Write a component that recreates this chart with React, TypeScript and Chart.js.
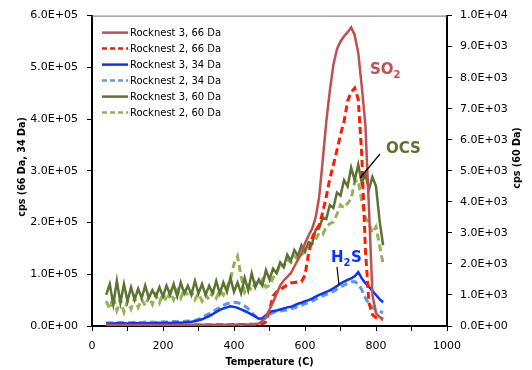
import { useEffect, useRef } from "react";
import { Chart, registerables } from "chart.js";

Chart.register(...registerables);

// Temperature (C)
const temps = [
  40, 50, 60, 70, 80, 90, 100, 110, 120, 130, 140, 150, 160, 170, 180, 190, 200, 210, 220, 230,
  240, 250, 260, 270, 280, 290, 300, 310, 320, 330, 340, 350, 360, 370, 380, 390, 400, 410, 420, 430,
  440, 450, 460, 470, 480, 490, 500, 510, 520, 530, 540, 550, 560, 570, 580, 590, 600, 610, 620, 630,
  640, 650, 660, 670, 680, 690, 700, 710, 720, 730, 740, 750, 760, 770, 780, 790, 800, 810, 820,
];

// Rocknest 3, 66 Da (left axis)
const rn3_66 = [
  2000, 1800, 2000, 1900, 2000, 2100, 1900, 2000, 2100, 2000, 1900, 2000, 2100, 2000, 2100, 2000, 2100, 2200, 2000, 2100,
  2200, 2100, 2200, 2100, 2200, 2300, 2200, 2300, 2400, 2300, 2400, 2500, 2400, 2500, 2600, 2500, 2600, 2700, 2800, 2900,
  3000, 3200, 3500, 5000, 9000, 18000, 32000, 46000, 62000, 78000, 88000, 95000, 102000, 115000, 128000, 140000, 160000, 175000, 188000, 210000,
  250000, 320000, 395000, 455000, 505000, 535000, 550000, 560000, 568000, 577000, 562000, 528000, 462000, 390000, 230000, 60000, 25000, 17000, 14000,
];

// Rocknest 2, 66 Da (left axis)
const rn2_66 = [
  1000, 1000, 1100, 1000, 1100, 1200, 1100, 1200, 1200, 1300, 1200, 1300, 1400, 1300, 1400, 1500, 1400, 1500, 1600, 1500,
  1600, 1700, 1600, 1700, 1800, 1900, 1800, 1900, 2000, 2100, 2000, 2200, 2300, 2400, 2500, 2600, 2700, 2800, 3000, 3100,
  3200, 3400, 3600, 3800, 4000, 8000, 30000, 58000, 66000, 70000, 75000, 80000, 83000, 84000, 85000, 86000, 98000, 140000, 170000, 185000,
  195000, 220000, 250000, 285000, 312000, 340000, 370000, 395000, 435000, 452000, 460000, 438000, 330000, 150000, 45000, 22000, 16000, 14000, 13000,
];

// Rocknest 3, 34 Da (left axis)
const rn3_34 = [
  5000, 4500, 5000, 5500, 5000, 5500, 5000, 5500, 6000, 5500, 5000, 5500, 6000, 5500, 6000, 6500, 6000, 6500, 6000, 6500,
  7000, 6500, 7000, 7500, 8000, 9000, 11000, 13000, 16000, 19000, 23000, 27000, 31000, 34000, 36000, 38000, 37000, 35000, 32000, 29000,
  26000, 22000, 18000, 14000, 15000, 21000, 27000, 29000, 30000, 32000, 34000, 36000, 37000, 40000, 43000, 45000, 48000, 50000, 53000, 57000,
  60000, 63000, 66000, 69000, 73000, 77000, 82000, 86000, 89000, 92000, 96000, 104000, 92000, 83000, 76000, 68000, 60000, 52000, 46000,
];

// Rocknest 2, 34 Da (left axis)
const rn2_34 = [
  6000, 6500, 6000, 6500, 7000, 6500, 7000, 6500, 7000, 6500, 7000, 7500, 7000, 7500, 7000, 7500, 8000, 7500, 8000, 8500,
  8000, 8500, 9000, 9500, 10000, 11000, 13000, 16000, 20000, 24000, 28000, 32000, 36000, 40000, 43000, 45000, 46000, 45000, 43000, 39000,
  33000, 26000, 19000, 14000, 12000, 16000, 22000, 26000, 28000, 29000, 30000, 31000, 33000, 35000, 38000, 40000, 43000, 45000, 48000, 52000,
  55000, 58000, 61000, 64000, 67000, 71000, 75000, 79000, 82000, 85000, 86000, 81000, 70000, 54000, 43000, 36000, 31000, 28000, 26000,
];

// Rocknest 3, 60 Da (right axis)
const rn3_60 = [
  1000, 1350, 700, 1450, 750, 1350, 800, 1250, 850, 1200, 900, 1300, 900, 1150, 950, 1250, 950, 1300, 1000, 1350,
  950, 1400, 1050, 1300, 1000, 1450, 1050, 1350, 1000, 1300, 1050, 1450, 1050, 1400, 1100, 1550, 1100, 1400, 1050, 1550,
  1150, 1700, 1250, 1500, 1300, 1800, 1500, 1850, 1700, 2050, 1900, 2300, 2100, 2450, 2250, 2600, 2400, 2700, 2650, 3100,
  3150, 3500, 3450, 3900, 3800, 4300, 4200, 4700, 4500, 5100, 4700, 5200, 4600, 4900, 4400, 4800, 4500, 3400, 2600,
];

// Rocknest 2, 60 Da (right axis)
const rn2_60 = [
  800, 550, 950, 500, 850, 450, 800, 550, 900, 600, 850, 650, 950, 700, 1000, 750, 1050, 800, 1100, 850,
  1150, 900, 1200, 950, 1100, 850, 1050, 800, 1000, 850, 1100, 900, 1150, 1000, 1250, 1500, 2000, 2250, 1600, 1100,
  1300, 1150, 1400, 1300, 1500, 1250, 1300, 1550, 1700, 2000, 1900, 2150, 2050, 2250, 2150, 2300, 2400, 2500, 2650, 2800,
  3000, 2950, 3200, 3300, 3350, 3600, 3900, 3800, 3950, 4100, 4650, 4700, 4000, 3500, 3300, 3000, 3200, 2600, 2000,
];

const seriesLabels = [
  "Rocknest 3, 66 Da",
  "Rocknest 2, 66 Da",
  "Rocknest 3, 34 Da",
  "Rocknest 2, 34 Da",
  "Rocknest 3, 60 Da",
  "Rocknest 2, 60 Da",
];

const xTitle = "Temperature (C)";
const yLeftTitle = "cps (66 Da, 34 Da)";
const yRightTitle = "cps (60 Da)";

const FONT = "'DejaVu Sans', Verdana, sans-serif";

function sci(v: number): string {
  if (v === 0) return "0.0E+00";
  const e = Math.floor(Math.log10(Math.abs(v)) + 1e-9);
  const m = v / Math.pow(10, e);
  return m.toFixed(1) + "E" + (e < 0 ? "-" : "+") + String(Math.abs(e)).padStart(2, "0");
}

const styles = [
  { color: "#C0504D", width: 2.5, dash: [] as number[], axis: "y" },
  { color: "#FF1A00", width: 3, dash: [7, 4], axis: "y" },
  { color: "#0B32FF", width: 2.5, dash: [] as number[], axis: "y" },
  { color: "#5B9BE0", width: 3, dash: [7, 4], axis: "y" },
  { color: "#5B7431", width: 2.5, dash: [] as number[], axis: "y1" },
  { color: "#93B356", width: 3, dash: [7, 4], axis: "y1" },
];

function drawChem(
  ctx: CanvasRenderingContext2D,
  parts: { t: string; sub?: boolean }[],
  x: number,
  y: number,
  color: string
) {
  ctx.fillStyle = color;
  ctx.textAlign = "left";
  ctx.textBaseline = "alphabetic";
  let cx = x;
  for (const p of parts) {
    ctx.font = p.sub ? `bold 10px ${FONT}` : `bold 15px ${FONT}`;
    ctx.fillText(p.t, cx, p.sub ? y + 4 : y);
    cx += ctx.measureText(p.t).width + (p.sub ? 0.5 : 0);
  }
}

const overlay = {
  id: "overlay",
  afterDraw(chart: any) {
    const { ctx, chartArea: a } = chart;
    ctx.save();
    // top frame line
    ctx.strokeStyle = "#707070";
    ctx.lineWidth = 1;
    ctx.beginPath();
    ctx.moveTo(a.left, a.top + 0.5);
    ctx.lineTo(a.right, a.top + 0.5);
    ctx.stroke();

    // legend
    ctx.font = `10px ${FONT}`;
    ctx.textBaseline = "middle";
    ctx.textAlign = "left";
    chart.data.datasets.forEach((ds: any, i: number) => {
      const y = a.top + 17 + i * 16;
      ctx.strokeStyle = ds.borderColor;
      ctx.lineWidth = 2.5;
      ctx.setLineDash(ds.borderDash && ds.borderDash.length ? [5, 3] : []);
      ctx.beginPath();
      ctx.moveTo(a.left + 10, y);
      ctx.lineTo(a.left + 36, y);
      ctx.stroke();
      ctx.setLineDash([]);
      ctx.fillStyle = "#000";
      ctx.fillText(ds.label, a.left + 38, y + 0.5);
    });

    // axis titles
    ctx.fillStyle = "#000";
    ctx.font = `bold 9.6px ${FONT}`;
    ctx.textAlign = "center";
    ctx.textBaseline = "middle";
    ctx.fillText(xTitle, (a.left + a.right) / 2, 362);
    ctx.save();
    ctx.translate(22, 167);
    ctx.rotate(-Math.PI / 2);
    ctx.fillText(yLeftTitle, 0, 0);
    ctx.restore();
    ctx.save();
    ctx.translate(517, 158);
    ctx.rotate(-Math.PI / 2);
    ctx.fillText(yRightTitle, 0, 0);
    ctx.restore();

    // annotations
    drawChem(ctx, [{ t: "SO" }, { t: "2", sub: true }], 370, 74, "#C0504D");
    drawChem(ctx, [{ t: "OCS" }], 386, 153, "#5B7431");
    drawChem(ctx, [{ t: "H" }, { t: "2", sub: true }, { t: "S" }], 331, 262, "#0B32FF");

    ctx.strokeStyle = "#000";
    ctx.lineWidth = 1.2;
    ctx.beginPath();
    ctx.moveTo(380, 154);
    ctx.lineTo(360, 178);
    ctx.moveTo(337, 267);
    ctx.lineTo(339, 285);
    ctx.stroke();
    ctx.restore();
  },
};

export default function App() {
  const ref = useRef<HTMLCanvasElement | null>(null);

  useEffect(() => {
    document.body.style.margin = "0";
    const canvas = ref.current;
    if (!canvas) return;
    const series = [rn3_66, rn2_66, rn3_34, rn2_34, rn3_60, rn2_60];
    const tickFont = { family: FONT, size: 11 };
    const chart = new Chart(canvas, {
      type: "line",
      data: {
        datasets: series.map((arr, i) => ({
          label: seriesLabels[i],
          data: temps.map((t, j) => ({ x: t, y: arr[j] })),
          borderColor: styles[i].color,
          backgroundColor: styles[i].color,
          borderWidth: styles[i].width,
          borderDash: styles[i].dash,
          pointRadius: 0,
          tension: 0,
          fill: false,
          yAxisID: styles[i].axis,
        })),
      },
      options: {
        animation: false,
        responsive: false,
        maintainAspectRatio: false,
        events: [],
        layout: { padding: { top: 15, left: 0, right: 0, bottom: 0 } },
        plugins: { legend: { display: false }, tooltip: { enabled: false }, title: { display: false } },
        scales: {
          x: {
            type: "linear",
            min: 0,
            max: 1000,
            ticks: {
              stepSize: 100,
              autoSkip: false,
              maxRotation: 0,
              padding: 9,
              color: "#000",
              font: tickFont,
              callback: (v: any) => (Number(v) % 200 === 0 ? String(v) : ""),
            },
            grid: { drawOnChartArea: false, drawTicks: true, tickLength: 5, color: "#000" },
            border: { display: true, color: "#000", width: 2 },
            afterFit: (s: any) => {
              s.height = 44;
            },
          },
          y: {
            type: "linear",
            position: "left",
            min: 0,
            max: 600000,
            ticks: { stepSize: 100000, padding: 9, color: "#000", font: tickFont, callback: (v: any) => sci(Number(v)) },
            grid: { drawOnChartArea: false, drawTicks: true, tickLength: 5, color: "#000" },
            border: { display: true, color: "#000", width: 2 },
            afterFit: (s: any) => {
              s.width = 92;
            },
          },
          y1: {
            type: "linear",
            position: "right",
            min: 0,
            max: 10000,
            ticks: { stepSize: 1000, padding: 8, color: "#000", font: tickFont, callback: (v: any) => sci(Number(v)) },
            grid: { drawOnChartArea: false, drawTicks: true, tickLength: 5, color: "#000" },
            border: { display: true, color: "#000", width: 2 },
            afterFit: (s: any) => {
              s.width = 85;
            },
          },
        },
      },
      plugins: [overlay],
    } as any);
    return () => chart.destroy();
  }, []);

  return (
    <div style={{ width: 532, height: 370, position: "relative", background: "#fff" }}>
      <canvas ref={ref} width={532} height={370} style={{ display: "block", width: 532, height: 370 }} />
    </div>
  );
}
